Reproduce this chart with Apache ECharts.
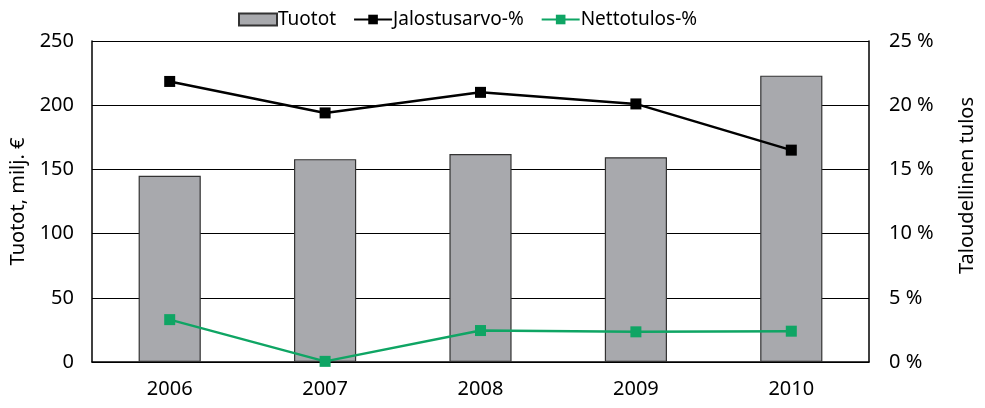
<!DOCTYPE html>
<html>
<head>
<meta charset="utf-8">
<script src="https://cdn.jsdelivr.net/npm/echarts@6/dist/echarts.min.js"></script>
<style>
  html, body { margin: 0; padding: 0; background: #fff; }
  #chart { width: 985px; height: 408px; }
</style>
</head>
<body>
<div id="chart"></div>
<script>
// values
const years = ['2006', '2007', '2008', '2009', '2010'];
const tuotot = [145, 158, 162, 159.5, 223];
const jalostusarvo = [21.85, 19.4, 21.0, 20.1, 16.5];
const nettotulos = [3.3, 0.05, 2.45, 2.35, 2.4];

const font = 'Noto Sans';
const txt = { color: '#000', fontFamily: font, fontSize: 20 };

const chart = echarts.init(document.getElementById('chart'));
chart.setOption({
  animation: false,
  textStyle: { fontFamily: font },
  legend: {
    top: 5,
    left: 233,
    itemGap: 17,
    itemWidth: 38,
    itemHeight: 12,
    textStyle: { color: '#000', fontFamily: font, fontSize: 19, padding: [0, 0, 0, -4] },
    data: [
      { name: 'Tuotot', icon: 'rect' },
      { name: 'Jalostusarvo-%' },
      { name: 'Nettotulos-%' }
    ]
  },
  grid: { left: 92, right: 116, top: 41, bottom: 46 },
  xAxis: {
    type: 'category',
    data: years,
    boundaryGap: true,
    axisLine: { lineStyle: { color: '#000', width: 1.5 } },
    axisTick: { inside: true, length: 5, lineStyle: { color: '#000' } },
    axisLabel: { ...txt, margin: 17 }
  },
  yAxis: [
    {
      type: 'value',
      min: 0, max: 250, interval: 50,
      name: 'Tuotot, milj. €',
      nameLocation: 'middle',
      nameGap: 64,
      nameTextStyle: txt,
      axisLine: { show: true, lineStyle: { color: '#000', width: 1.5 } },
      axisTick: { show: false },
      axisLabel: { ...txt, margin: 18 },
      splitLine: { lineStyle: { color: '#000', width: 1.2 } }
    },
    {
      type: 'value',
      min: 0, max: 25, interval: 5,
      name: 'Taloudellinen tulos',
      nameLocation: 'middle',
      nameGap: 88,
      nameRotate: 90,
      nameTextStyle: { ...txt, padding: [0, 0, 0, 32] },
      axisLine: { show: true, lineStyle: { color: '#000', width: 1.5 } },
      axisTick: { show: false },
      axisLabel: { ...txt, margin: 20, formatter: '{value} %' },
      splitLine: { show: false }
    }
  ],
  series: [
    {
      name: 'Tuotot',
      type: 'bar',
      data: tuotot,
      barWidth: '40%',
      itemStyle: { color: '#a8a9ad', borderColor: '#333', borderWidth: 1.2 }
    },
    {
      name: 'Jalostusarvo-%',
      type: 'line',
      yAxisIndex: 1,
      data: jalostusarvo,
      symbol: 'rect',
      symbolSize: 11,
      lineStyle: { color: '#000', width: 2.5 },
      itemStyle: { color: '#000' }
    },
    {
      name: 'Nettotulos-%',
      type: 'line',
      yAxisIndex: 1,
      data: nettotulos,
      symbol: 'rect',
      symbolSize: 11,
      lineStyle: { color: '#0fa564', width: 2.5 },
      itemStyle: { color: '#0fa564' }
    }
  ]
});
</script>
</body>
</html>
